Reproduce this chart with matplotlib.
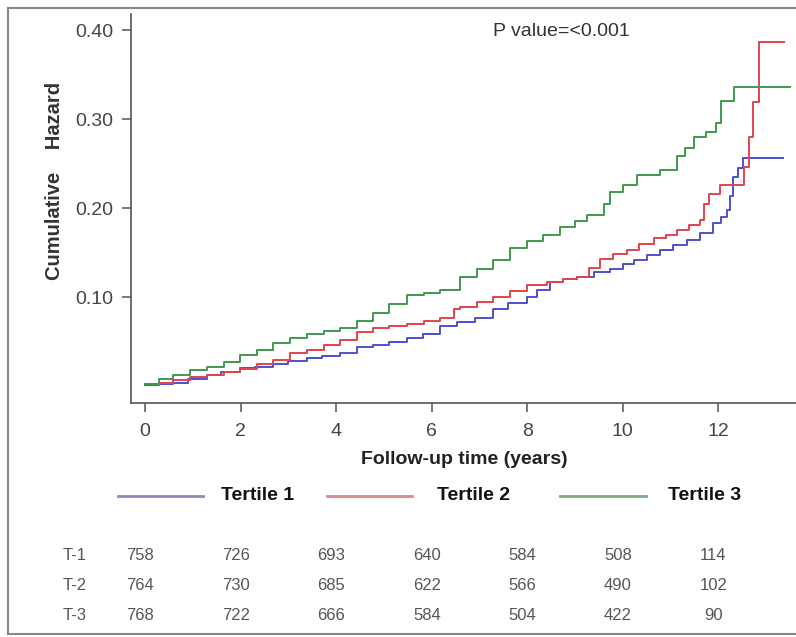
import matplotlib
matplotlib.use('Agg')
import matplotlib.pyplot as plt
from matplotlib.lines import Line2D
import matplotlib.transforms as mtransforms

plt.rcParams['font.family'] = ['Liberation Sans', 'DejaVu Sans']

# ── DONNÉES ──────────────────────────────────────────────
t1_time = [0, 0.3, 0.59, 0.9, 1.29, 1.6, 1.99, 2.3, 2.69, 3.0, 3.39, 3.7, 4.08, 4.43,
           4.78, 5.1, 5.48, 5.83, 6.18, 6.53, 6.9, 7.29, 7.6, 7.99, 8.2, 8.48, 8.75,
           9.04, 9.4, 9.74, 10.0, 10.23, 10.5, 10.79, 11.05, 11.34, 11.62, 11.9,
           12.05, 12.18, 12.25, 12.32, 12.42, 12.53, 13.35]
t1_haz = [0.001, 0.002, 0.004, 0.008, 0.012, 0.016, 0.020, 0.022, 0.025, 0.028, 0.031,
          0.034, 0.037, 0.044, 0.046, 0.050, 0.054, 0.059, 0.067, 0.072, 0.077, 0.087,
          0.093, 0.100, 0.108, 0.117, 0.120, 0.123, 0.128, 0.132, 0.137, 0.142, 0.147,
          0.153, 0.158, 0.164, 0.172, 0.183, 0.190, 0.198, 0.213, 0.235, 0.245, 0.256,
          0.256]

t2_time = [0, 0.3, 0.59, 0.95, 1.29, 1.65, 1.99, 2.34, 2.69, 3.04, 3.39, 3.75, 4.08,
           4.43, 4.78, 5.1, 5.48, 5.85, 6.18, 6.46, 6.6, 6.95, 7.29, 7.65, 7.99, 8.41,
           8.75, 9.04, 9.3, 9.53, 9.8, 10.09, 10.35, 10.65, 10.9, 11.14, 11.4, 11.62,
           11.7, 11.8, 12.04, 12.55, 12.65, 12.72, 12.85, 13.37]
t2_haz = [0.002, 0.004, 0.007, 0.010, 0.012, 0.016, 0.019, 0.025, 0.029, 0.037, 0.040,
          0.046, 0.052, 0.061, 0.065, 0.068, 0.070, 0.073, 0.076, 0.087, 0.089, 0.095,
          0.100, 0.107, 0.113, 0.117, 0.120, 0.123, 0.133, 0.143, 0.148, 0.153, 0.160,
          0.166, 0.170, 0.175, 0.181, 0.187, 0.205, 0.216, 0.226, 0.246, 0.280, 0.319,
          0.387, 0.387]

t3_time = [0, 0.3, 0.59, 0.95, 1.29, 1.65, 1.99, 2.34, 2.69, 3.04, 3.39, 3.75, 4.08,
           4.43, 4.78, 5.1, 5.48, 5.85, 6.18, 6.6, 6.95, 7.29, 7.64, 8.0, 8.34, 8.69,
           9.0, 9.25, 9.6, 9.74, 10.0, 10.3, 10.79, 11.14, 11.3, 11.5, 11.75, 11.95,
           12.05, 12.33, 13.5]
t3_haz = [0.002, 0.008, 0.012, 0.018, 0.022, 0.027, 0.035, 0.041, 0.048, 0.054, 0.059,
          0.062, 0.065, 0.073, 0.082, 0.092, 0.102, 0.105, 0.108, 0.123, 0.132, 0.142,
          0.155, 0.163, 0.170, 0.179, 0.185, 0.192, 0.205, 0.218, 0.226, 0.237, 0.243,
          0.258, 0.268, 0.280, 0.286, 0.295, 0.320, 0.336, 0.336]

groupes = ['Tertile 1', 'Tertile 2', 'Tertile 3']
couleurs = ['#4f4fd0', '#e2434e', '#3f9a4e']
couleurs_leg = ['#8c8cb8', '#e0878f', '#7eaa84']

x_ticks = [0, 2, 4, 6, 8, 10, 12]
y_ticks = [0.10, 0.20, 0.30, 0.40]

row_labels = ['T-1', 'T-2', 'T-3']
at_risk_t1 = [758, 726, 693, 640, 584, 508, 114]
at_risk_t2 = [764, 730, 685, 622, 566, 490, 102]
at_risk_t3 = [768, 722, 666, 584, 504, 422, 90]

# ── FIGURE ───────────────────────────────────────────────
W, H = 796, 637
fig = plt.figure(figsize=(W / 100, H / 100), dpi=100)
ax = fig.add_axes([131 / W, 1 - 403 / H, (W - 131) / W, (403 - 14) / H])

courbes = [(t1_time, t1_haz), (t2_time, t2_haz), (t3_time, t3_haz)]
for (tt, hh), c in zip(courbes, couleurs):
    ax.plot(tt, hh, drawstyle='steps-post', color=c, linewidth=1.4)

ax.set_xlim(-0.293, 13.63)
ax.set_ylim(-0.019, 0.418)
ax.set_xticks(x_ticks)
ax.set_yticks(y_ticks)
ax.set_yticklabels([f"{v:.2f}" for v in y_ticks])
ax.tick_params(axis='both', direction='out', length=6.5, width=1.1, color='#555555',
               labelsize=14, labelcolor='#444444')
ax.tick_params(axis='y', pad=6)
ax.tick_params(axis='x', pad=8)
for s in ['top', 'right']:
    ax.spines[s].set_visible(False)
for s in ['left', 'bottom']:
    ax.spines[s].set_color('#555555')
    ax.spines[s].set_linewidth(1.2)

fig.text(561 / W, 1 - 31 / H, 'P value=<0.001', ha='center', va='center',
         fontsize=14, color='#333333')
fig.text(464 / W, 1 - 460 / H, 'Follow-up time (years)', ha='center', va='center',
         fontsize=14, fontweight='bold', color='#222222')
fig.text(55 / W, 1 - 181 / H, 'Cumulative    Hazard', ha='center', va='center',
         rotation=90, fontsize=14.5, fontweight='bold', color='#333333')

# légende
leg_y = 1 - 496 / H
leg_x = [(118, 203, 221), (327, 412, 437), (560, 646, 668)]
for (x0, x1, xt), nom, c in zip(leg_x, groupes, couleurs_leg):
    fig.add_artist(Line2D([x0 / W, x1 / W], [leg_y, leg_y], color=c, linewidth=2))
    fig.text(xt / W, leg_y, nom, ha='left', va='center', fontsize=14,
             fontweight='bold', color='#111111')

# table des sujets à risque
trans = mtransforms.blended_transform_factory(ax.transData, fig.transFigure)
rows = [at_risk_t1, at_risk_t2, at_risk_t3]
rows_y = [555, 585, 615]
for lab, vals, py in zip(row_labels, rows, rows_y):
    fig.text(75 / W, 1 - py / H, lab, ha='center', va='center', fontsize=12,
             color='#555555')
    for xv, v in zip(x_ticks, vals):
        ax.text(xv - 0.1, 1 - py / H, str(v), transform=trans, ha='center',
                va='center', fontsize=12, color='#555555', clip_on=False)

# cadre extérieur
for xs, ys in [([8 / W, 8 / W], [1 - 8 / H, 1 - 634 / H]),
               ([8 / W, 1], [1 - 8 / H, 1 - 8 / H]),
               ([8 / W, 1], [1 - 634 / H, 1 - 634 / H])]:
    fig.add_artist(Line2D(xs, ys, color='#888888', linewidth=1.5))

fig.savefig('out.png', dpi=100)
plt.close(fig)
